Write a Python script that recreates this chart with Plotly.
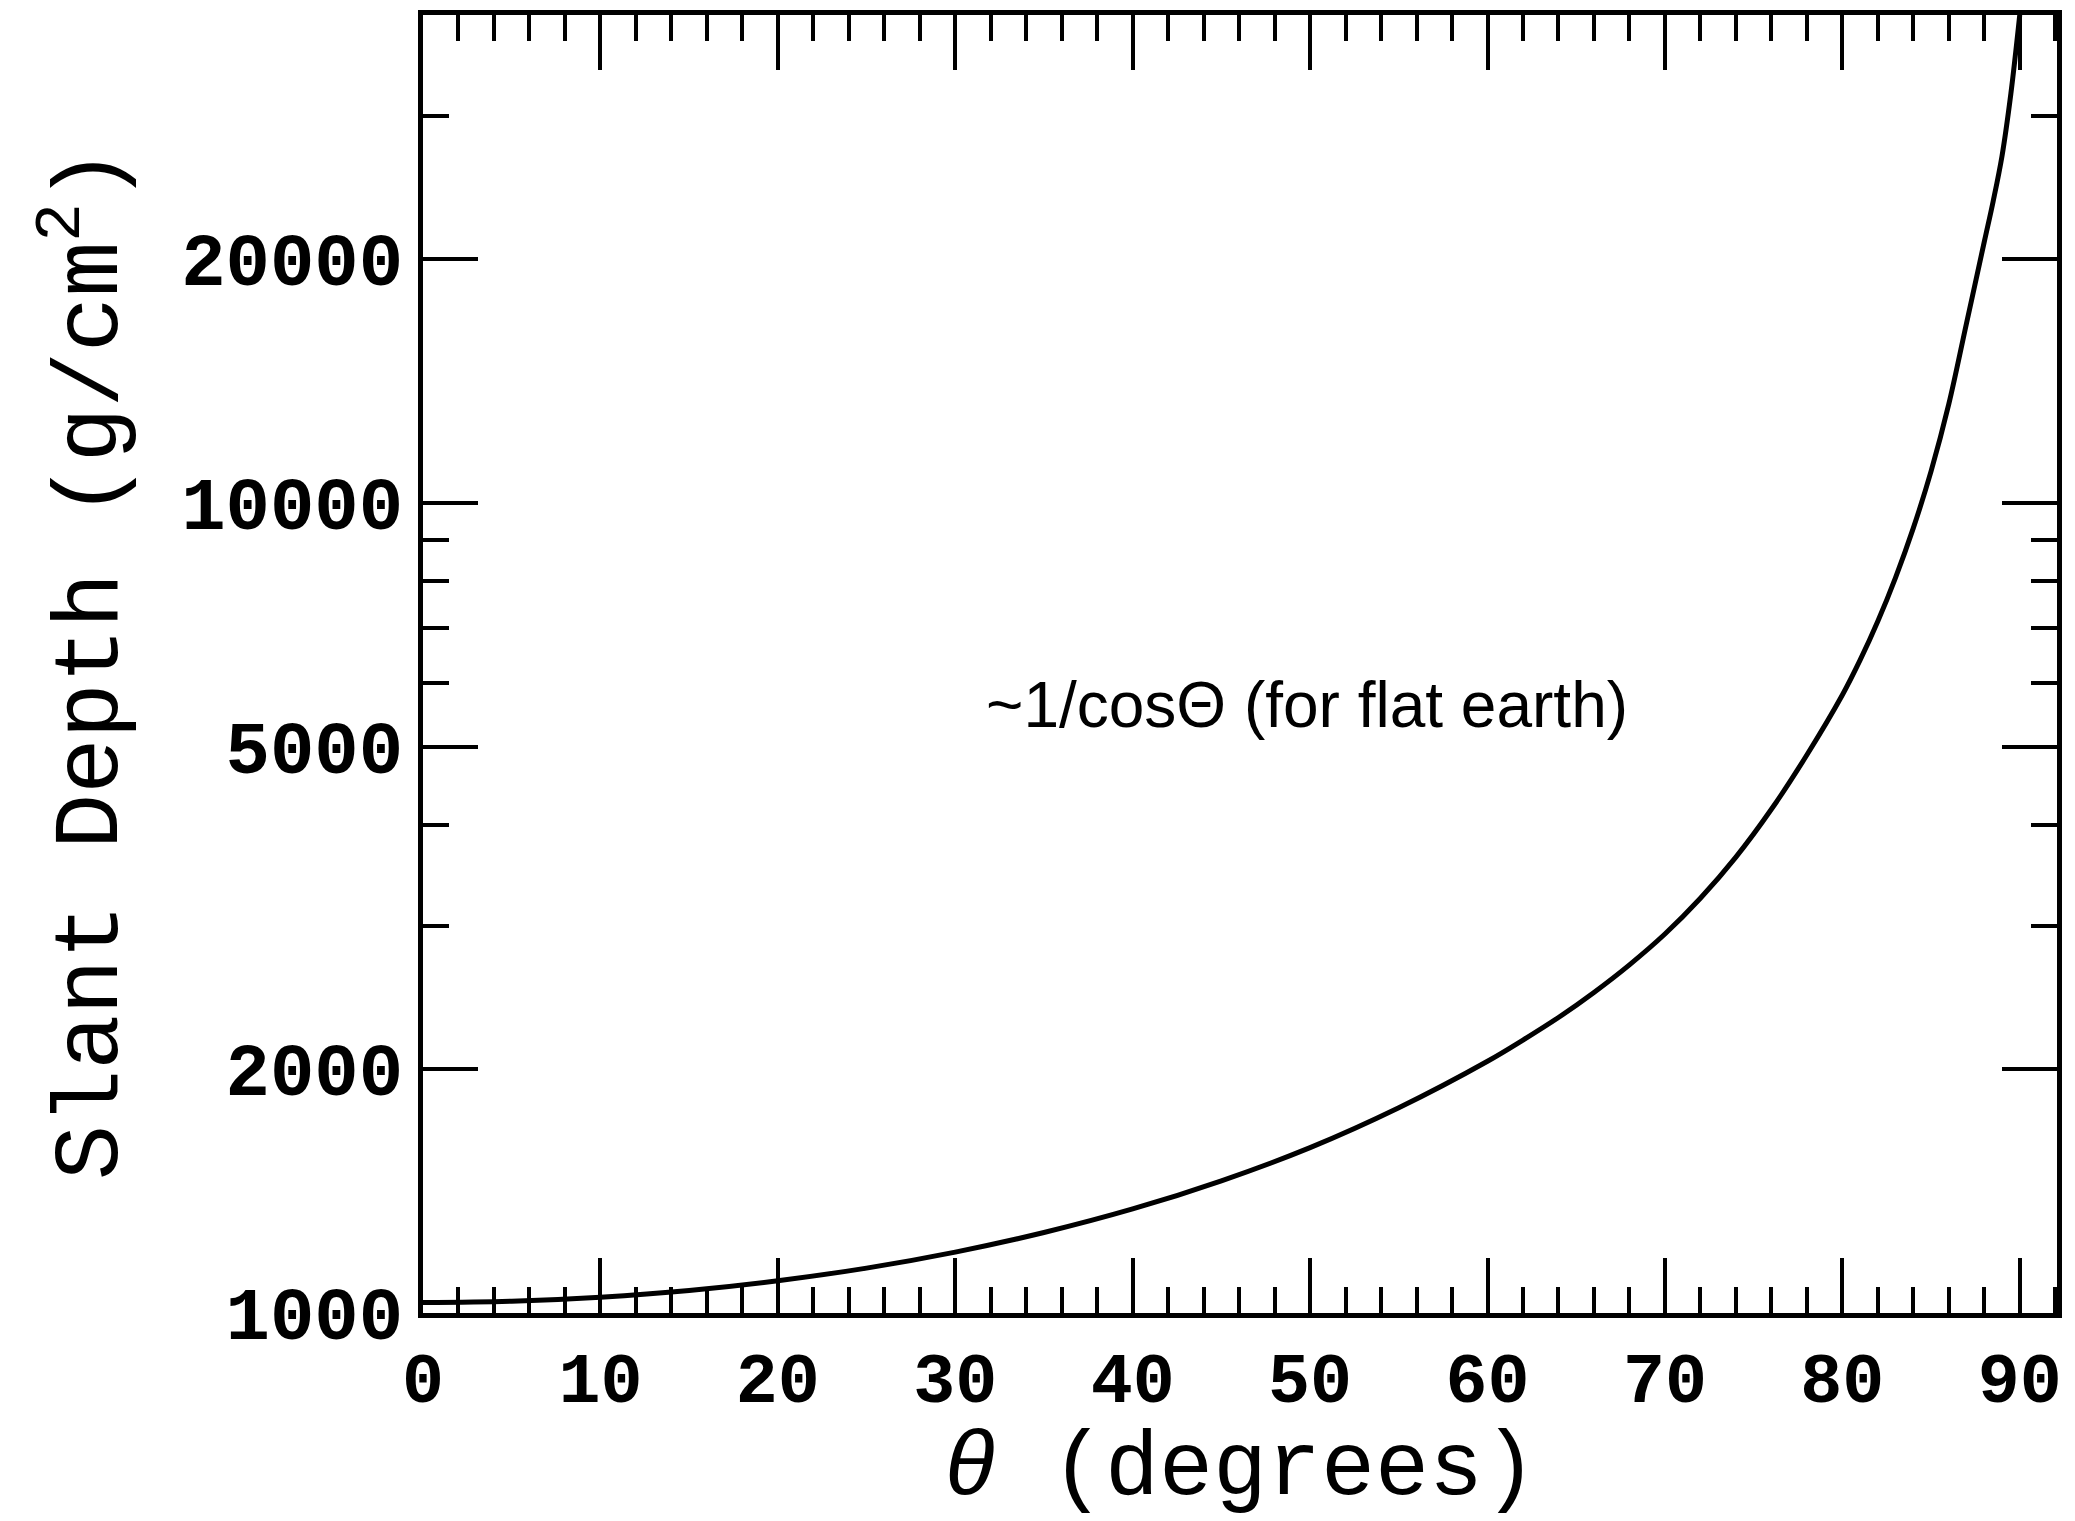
import plotly.graph_objects as go
import numpy as np

# Data (theta in degrees, slant depth in g/cm^2)
theta = [0, 5, 10, 15, 20, 25, 30, 35, 40, 45, 50, 55, 60,
         62, 64, 66, 68, 70, 72, 74, 76, 78, 80,
         81, 82, 83, 84, 85, 86, 87, 88, 88.5, 89, 89.5, 90]
depth = [1030, 1034, 1046, 1066, 1096, 1136, 1189, 1257, 1344, 1456, 1600, 1792, 2045,
         2172, 2316, 2487, 2690, 2936, 3250, 3653, 4185, 4883, 5790,
         6393, 7140, 8086, 9305, 10935, 13235, 16660, 20990, 23550, 26790, 31990, 40000]

x_major = [0, 10, 20, 30, 40, 50, 60, 70, 80, 90]
y_major = [1000, 2000, 5000, 10000, 20000]
y_major_text = ["1000", "2000", "5000", "10000", "20000"]
y_minor = [3000, 4000, 6000, 7000, 8000, 9000, 30000, 40000]

annot_text = "~1/cosΘ (for flat earth)"
annot_x = 49.8
annot_y = 5630

y_tick_font = dict(family="Liberation Mono, Courier New, monospace", size=74, color="black", weight="bold")
x_tick_font = dict(family="Liberation Mono, Courier New, monospace", size=70, color="black", weight="bold")
title_font = dict(family="Liberation Mono, Courier New, monospace", size=90, color="black")

fig = go.Figure()
fig.add_trace(go.Scatter(x=theta, y=depth, mode="lines",
                         line=dict(color="black", width=5, shape="spline", smoothing=1.0),
                         showlegend=False, hoverinfo="skip"))

fig.add_annotation(x=annot_x, y=np.log10(annot_y), text=annot_text, showarrow=False,
                   font=dict(family="Liberation Sans, Arial, sans-serif", size=64, color="black"),
                   xanchor="center", yanchor="middle")

fig.update_xaxes(range=[0, 92.1], tickvals=x_major, ticktext=[str(v) for v in x_major],
                 ticks="inside", ticklen=55, tickwidth=4, tickcolor="black",
                 minor=dict(dtick=2, tick0=0, ticks="inside", ticklen=26, tickwidth=4, tickcolor="black"),
                 showline=True, linewidth=5, linecolor="black", mirror="ticks",
                 showgrid=False, zeroline=False, tickfont=x_tick_font,
                 title=dict(text="<i>θ</i> (degrees)", font=title_font, standoff=44))

fig.update_yaxes(type="log", range=[3, np.log10(40000)], tickvals=y_major, ticktext=y_major_text,
                 ticks="inside", ticklen=55, tickwidth=4, tickcolor="black",
                 minor=dict(tickvals=y_minor, ticks="inside", ticklen=26, tickwidth=4, tickcolor="black"),
                 showline=True, linewidth=5, linecolor="black", mirror="ticks",
                 showgrid=False, zeroline=False, tickfont=y_tick_font,
                 title=dict(text="Slant Depth (g/cm<sup>2</sup>)", font=dict(family="Liberation Mono, Courier New, monospace", size=92, color="black"), standoff=34))

fig.update_layout(width=2075, height=1521, margin=dict(l=423, r=18, t=15, b=208, autoexpand=False),
                  plot_bgcolor="white", paper_bgcolor="white")

fig.write_html("out.html")
